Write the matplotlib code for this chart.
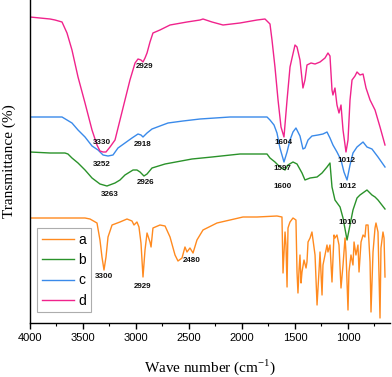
import matplotlib
matplotlib.use("Agg")
import matplotlib.pyplot as plt
from matplotlib.ticker import MultipleLocator

plt.rcParams['mathtext.fontset'] = 'custom'
plt.rcParams['mathtext.rm'] = 'Liberation Serif'

# ---- data (wavenumber in cm-1, transmittance in arbitrary offset units) ----
wn_d = [4000, 3906, 3811, 3764, 3698, 3651, 3604, 3547, 3481, 3415, 3368, 3340, 3311, 3283,
        3245, 3198, 3151, 3104, 3057, 3009, 2981, 2953, 2934, 2915, 2896, 2868, 2840, 2774,
        2679, 2519, 2396, 2368, 2283, 2179, 2019, 1858, 1783, 1736, 1717, 1689, 1660, 1632,
        1604, 1575, 1547, 1528, 1500, 1481, 1453, 1425, 1406, 1387, 1349, 1311, 1264, 1217,
        1189, 1170, 1151, 1142, 1123, 1104, 1085, 1066, 1047, 1019, 1000, 981, 962, 934,
        915, 887, 858, 830, 792, 745, 698, 651]
tr_d = [306, 305, 304, 303, 301, 290, 273, 246, 220, 193, 178, 172, 171, 171,
        176, 183, 203, 223, 243, 260, 264, 263, 261, 265, 270, 281, 290, 293,
        298, 301, 303, 304, 301, 298, 300, 303, 304, 299, 283, 256, 223, 196,
        186, 223, 256, 265, 278, 276, 263, 235, 243, 258, 260, 259, 261, 265,
        270, 267, 233, 228, 235, 218, 210, 218, 193, 171, 183, 223, 243, 247,
        251, 248, 249, 235, 223, 213, 196, 178]

wn_c = [4000, 3698, 3651, 3604, 3547, 3481, 3415, 3358, 3311, 3264, 3217, 3170, 3104, 3038,
        2981, 2953, 2934, 2896, 2849, 2774, 2698, 2557, 2396, 2113, 1764, 1736, 1698, 1670,
        1642, 1604, 1575, 1547, 1519, 1491, 1453, 1425, 1406, 1377, 1340, 1283, 1236, 1198,
        1170, 1142, 1104, 1066, 1038, 1009, 981, 953, 915, 858, 821, 774, 717, 651]
tr_c = [206, 206, 203, 200, 193, 186, 177, 173, 168, 167, 168, 175, 180, 185,
        189, 188, 186, 190, 194, 197, 200, 202, 204, 206, 206, 203, 198, 190,
        175, 161, 171, 183, 191, 195, 187, 174, 175, 183, 187, 188, 189, 191,
        185, 178, 171, 163, 151, 143, 158, 170, 176, 181, 176, 174, 166, 156]

wn_b = [4000, 3811, 3670, 3642, 3604, 3547, 3481, 3415, 3340, 3274, 3198, 3151, 3104, 3028,
        2991, 2962, 2925, 2896, 2849, 2726, 2472, 2283, 2019, 1764, 1736, 1689, 1642, 1594,
        1566, 1519, 1481, 1434, 1406, 1358, 1292, 1245, 1198, 1170, 1151, 1123, 1075, 1047,
        1009, 981, 953, 915, 887, 821, 774, 745, 717, 651]
tr_b = [171, 170, 170, 169, 165, 160, 153, 145, 139, 137, 140, 143, 148, 153,
        153, 151, 147, 149, 155, 159, 164, 166, 169, 169, 165, 161, 156, 153,
        158, 161, 159, 150, 143, 145, 146, 150, 156, 160, 136, 123, 116, 105,
        83, 98, 113, 125, 128, 133, 128, 126, 123, 114]

wn_a = [4000, 3481, 3434, 3368, 3340, 3321, 3302, 3283, 3264, 3226, 3151, 3085, 3038, 3019,
        2991, 2972, 2953, 2934, 2915, 2896, 2868, 2858, 2840, 2774, 2726, 2679, 2632, 2604,
        2566, 2538, 2519, 2491, 2462, 2425, 2368, 2236, 2113, 1991, 1858, 1670, 1623, 1613,
        1594, 1585, 1575, 1566, 1557, 1547, 1519, 1491, 1481, 1472, 1462, 1453, 1443, 1434,
        1415, 1396, 1387, 1377, 1358, 1340, 1330, 1311, 1292, 1274, 1264, 1245, 1236, 1217,
        1198, 1189, 1170, 1151, 1132, 1123, 1104, 1085, 1066, 1047, 1028, 1019, 1000, 991,
        972, 953, 943, 925, 906, 896, 877, 858, 840, 830, 811, 792, 783, 764,
        745, 736, 717, 698, 689, 670, 660, 651]
tr_a = [105, 105, 104, 100, 83, 66, 53, 66, 86, 98, 101, 104, 102, 98,
        101, 96, 80, 46, 73, 90, 81, 76, 95, 98, 97, 86, 68, 62,
        65, 76, 71, 75, 70, 83, 93, 100, 103, 106, 106, 107, 106, 50,
        91, 78, 36, 95, 98, 101, 105, 103, 51, 30, 53, 68, 40, 51,
        63, 55, 61, 81, 85, 91, 83, 68, 18, 51, 71, 28, 58, 68,
        78, 71, 78, 41, 88, 85, 88, 78, 35, 58, 85, 71, 13, 51,
        68, 58, 81, 68, 78, 51, 81, 88, 86, 98, 98, 61, 11, 71,
        95, 100, 91, 5, 75, 91, 85, 46]

series_labels = ['a', 'b', 'c', 'd']
colors = ['#FF8A1F', '#2A922A', '#3A8AEA', '#F0238C']

# peak annotations: (text, wavenumber, level)
peak_text = ['3330', '2929', '2918', '3252', '2926', '3263', '1604', '1597', '1600',
             '1012', '1012', '1010', '3300', '2929', '2480']
peak_wn = [3321, 2915, 2934, 3321, 2906, 3245, 1613, 1623, 1613,
           1019, 1009, 1000, 3302, 2943, 2472]
peak_lv = [180, 256, 178, 158, 140, 128, 181, 154, 136,
           162, 136, 101, 47, 37, 62]

# ---- figure ----
fig = plt.figure(figsize=(3.92, 3.77), dpi=100)
ax = fig.add_axes([30/392, (377-323)/377, 360.4/392, 323/377])

lines = []
for wn, tr, lab, col in zip([wn_a, wn_b, wn_c, wn_d], [tr_a, tr_b, tr_c, tr_d],
                            series_labels, colors):
    ln, = ax.plot(wn, tr, color=col, lw=1.0, label=lab)
    lines.append(ln)

for t, w, v in zip(peak_text, peak_wn, peak_lv):
    ax.text(w, v, t, fontsize=5.8, fontweight='bold', ha='center', va='center',
            family='Liberation Sans', color='#111111')

ax.set_xlim(4000, 600)
ax.set_ylim(0, 323)
ax.spines['top'].set_visible(False)
ax.spines['right'].set_visible(False)
ax.spines['left'].set_linewidth(1.0)
ax.spines['bottom'].set_linewidth(1.0)
ax.set_yticks([])
ax.xaxis.set_major_locator(MultipleLocator(500))
ax.xaxis.set_minor_locator(MultipleLocator(250))
ax.tick_params(axis='x', which='major', length=4.5, width=1.0, direction='out', pad=3,
               labelsize=8)
ax.tick_params(axis='x', which='minor', length=2.5, width=0.8, direction='out')
for lbl in ax.get_xticklabels():
    lbl.set_family('Liberation Sans')

ax.set_xlabel(r'Wave number (cm$^{\mathregular{-1}}$)', family='Liberation Serif', fontsize=11)
ax.set_ylabel('Transmittance (%)', family='Liberation Serif', fontsize=11)
ax.xaxis.set_label_coords(0.5, -0.105)
ax.yaxis.set_label_coords(-0.04, 0.5)

leg = ax.legend(handles=lines, loc='upper left', bbox_to_anchor=((37-30)/360.4, (323-228)/323),
                borderaxespad=0, prop={'family': 'Liberation Sans', 'size': 10},
                handlelength=2.3, handletextpad=0.3, labelspacing=0.45, borderpad=0.35,
                fancybox=False, frameon=True)
leg.get_frame().set_edgecolor('#999999')
leg.get_frame().set_linewidth(0.8)

fig.savefig('out.png', dpi=100)
